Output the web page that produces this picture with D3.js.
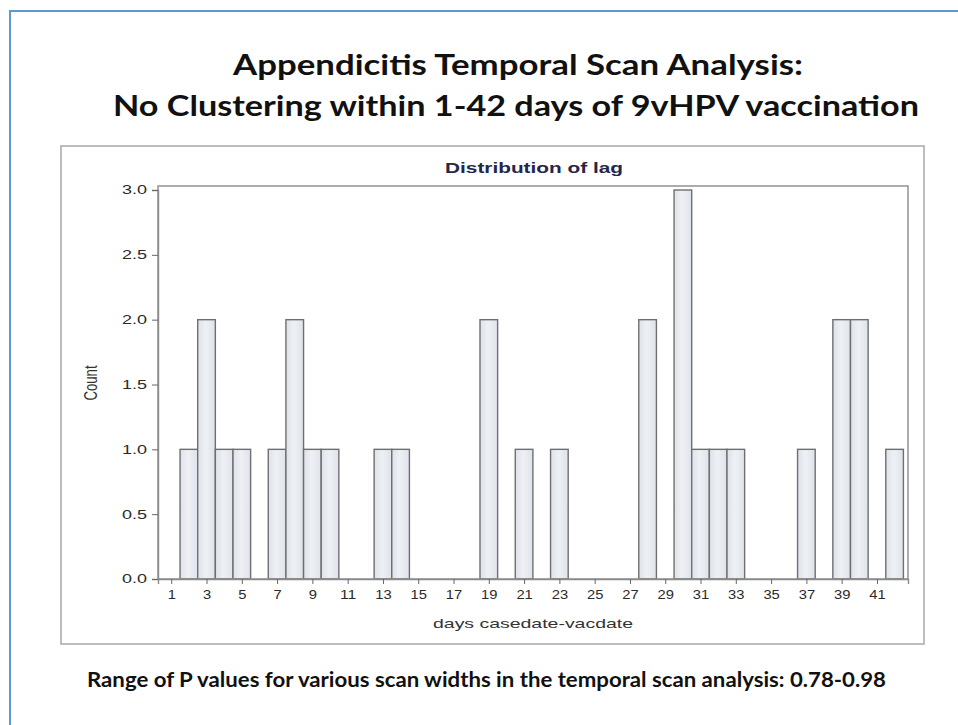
<!DOCTYPE html>
<html>
<head>
<meta charset="utf-8">
<script src="https://cdn.jsdelivr.net/npm/d3@7"></script>
<style>
  html, body { margin: 0; padding: 0; background: #fff; }
  svg { display: block; }
</style>
</head>
<body>
<svg id="chart" width="958" height="725"></svg>
<script>
// ---- data ----
const titleLines = ["Appendicitis Temporal Scan Analysis:", "No Clustering within 1-42 days of 9vHPV vaccination"];
const panelTitle = "Distribution of lag";
const xLabel = "days casedate-vacdate";
const yLabel = "Count";
const footnote = "Range of P values for various scan widths in the temporal scan analysis: 0.78-0.98";
const days   = [2, 3, 4, 5, 7, 8, 9, 10, 13, 14, 19, 21, 23, 28, 30, 31, 32, 33, 37, 39, 40, 42];
const counts = [1, 2, 1, 1, 1, 2, 1, 1, 1, 1, 2, 1, 1, 2, 3, 1, 1, 1, 1, 2, 2, 1];
const xTicks = [1, 3, 5, 7, 9, 11, 13, 15, 17, 19, 21, 23, 25, 27, 29, 31, 33, 35, 37, 39, 41];
const yTicks = [0, 0.5, 1.0, 1.5, 2.0, 2.5, 3.0];

(function () {
const svg = d3.select("#chart");

const defs = svg.append("defs");
const grad = defs.append("linearGradient").attr("id", "barGrad")
  .attr("x1", "0%").attr("x2", "100%").attr("y1", "0%").attr("y2", "0%");
grad.append("stop").attr("offset", "0%").attr("stop-color", "#dde2ea");
grad.append("stop").attr("offset", "45%").attr("stop-color", "#eef0f4");
grad.append("stop").attr("offset", "100%").attr("stop-color", "#dfe3ea");

// outer slide border (blue)
svg.append("path")
  .attr("d", "M10,725 L10,11 L958,11")
  .attr("fill", "none").attr("stroke", "#5b9bd5").attr("stroke-width", 2);

// title
svg.append("text").attr("x", 233).attr("y", 75)
  .attr("font-family", "Lato, 'Open Sans', sans-serif").attr("font-weight", "bold")
  .attr("font-size", 29).attr("fill", "#111")
  .attr("textLength", 570).attr("lengthAdjust", "spacingAndGlyphs")
  .text(titleLines[0]);
svg.append("text").attr("x", 113).attr("y", 116)
  .attr("font-family", "Lato, 'Open Sans', sans-serif").attr("font-weight", "bold")
  .attr("font-size", 29).attr("fill", "#111")
  .attr("textLength", 806).attr("lengthAdjust", "spacingAndGlyphs")
  .text(titleLines[1]);

// panel
svg.append("rect").attr("x", 61).attr("y", 146).attr("width", 863).attr("height", 498)
  .attr("fill", "#fff").attr("stroke", "#a8a8a8").attr("stroke-width", 1.5);

svg.append("text").attr("x", 445).attr("y", 173)
  .attr("font-family", "'Liberation Sans', Arial, sans-serif").attr("font-weight", "bold")
  .attr("font-size", 15).attr("fill", "#26264a")
  .attr("textLength", 178).attr("lengthAdjust", "spacingAndGlyphs")
  .text(panelTitle);

// plot area
const pL = 158, pR = 908, pT = 186, pB = 579;
const x = d3.scaleLinear().domain([0.25, 42.76]).range([pL, pR]);
const y = d3.scaleLinear().domain([0, 3]).range([pB, 190]);

const g = svg.append("g");

g.selectAll("rect.bar").data(days.map((d, i) => ({ d, c: counts[i] })))
  .enter().append("rect").attr("class", "bar")
  .attr("x", v => x(v.d - 0.5))
  .attr("width", v => x(v.d + 0.5) - x(v.d - 0.5))
  .attr("y", v => y(v.c))
  .attr("height", v => y(0) - y(v.c))
  .attr("fill", "url(#barGrad)").attr("stroke", "#6f6f6f").attr("stroke-width", 1.4);

// frame
g.append("rect").attr("x", pL).attr("y", pT).attr("width", pR - pL).attr("height", pB - pT)
  .attr("fill", "none").attr("stroke", "#8a8a8a").attr("stroke-width", 1.4);

// x axis
const xAxis = g.append("g").attr("transform", `translate(0,${pB})`)
  .call(d3.axisBottom(x).tickValues(xTicks).tickSize(5).tickPadding(6).tickFormat(d3.format("d")));
xAxis.select(".domain").attr("stroke", "#8a8a8a").attr("stroke-width", 1.4);
xAxis.selectAll(".tick line").attr("stroke", "#666");
xAxis.selectAll(".tick text")
  .attr("font-family", "'Liberation Sans', Arial, sans-serif").attr("font-size", 12).attr("fill", "#2a2a2a")
  .each(function(d) {
    const s = String(d);
    d3.select(this).attr("textLength", s.length * 8.2).attr("lengthAdjust", "spacingAndGlyphs");
  });

// y axis
const yAxis = g.append("g").attr("transform", `translate(${pL},0)`)
  .call(d3.axisLeft(y).tickValues(yTicks).tickSize(6).tickPadding(5).tickFormat(d3.format(".1f")));
yAxis.select(".domain").attr("stroke", "#8a8a8a").attr("stroke-width", 1.4);
yAxis.selectAll(".tick line").attr("stroke", "#666");
yAxis.selectAll(".tick text")
  .attr("font-family", "'Liberation Sans', Arial, sans-serif").attr("font-size", 12).attr("fill", "#2a2a2a")
  .attr("textLength", 25).attr("lengthAdjust", "spacingAndGlyphs");

// axis labels
svg.append("text").attr("x", (pL + pR) / 2).attr("y", 628)
  .attr("text-anchor", "middle")
  .attr("font-family", "'Liberation Sans', Arial, sans-serif").attr("font-size", 13).attr("fill", "#333")
  .attr("textLength", 200).attr("lengthAdjust", "spacingAndGlyphs")
  .text(xLabel);

svg.append("text")
  .attr("transform", "translate(97,383) rotate(-90) scale(1.1,1.5)")
  .attr("text-anchor", "middle")
  .attr("font-family", "'Liberation Sans', Arial, sans-serif").attr("font-size", 12).attr("fill", "#333")
  .text(yLabel);

// footnote
svg.append("text").attr("x", 87).attr("y", 687)
  .attr("font-family", "Lato, 'Open Sans', sans-serif").attr("font-weight", "bold")
  .attr("font-size", 20).attr("fill", "#111")
  .attr("textLength", 799).attr("lengthAdjust", "spacingAndGlyphs")
  .text(footnote);
})();
</script>
</body>
</html>
